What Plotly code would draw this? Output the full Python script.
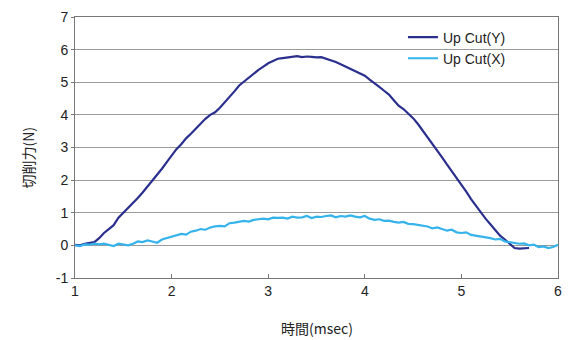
import plotly.graph_objects as go

time_ms = [round(1.0 + 0.05 * i, 2) for i in range(101)]

up_cut_y = [
    0.02, 0.00, 0.05, 0.08, 0.10, 0.22, 0.38, 0.50, 0.62, 0.85,
    1.00, 1.12, 1.30, 1.45, 1.62, 1.80, 1.98, 2.15, 2.35, 2.55,
    2.75, 2.95, 3.10, 3.28, 3.42, 3.58, 3.75, 3.88, 4.00, 4.08,
    4.22, 4.38, 4.55, 4.72, 4.90, 5.02, 5.15, 5.28, 5.38, 5.48,
    5.58, 5.65, 5.72, 5.74, 5.76, 5.78, 5.80, 5.77, 5.79, 5.78,
    5.76, 5.77, 5.72, 5.68, 5.62, 5.55, 5.48, 5.40, 5.34, 5.28,
    5.20, 5.08, 4.98, 4.86, 4.74, 4.62, 4.45, 4.28, 4.18, 4.05,
    3.90, 3.72, 3.52, 3.30, 3.12, 2.90, 2.70, 2.48, 2.28, 2.05,
    1.85, 1.65, 1.42, 1.22, 1.00, 0.82, 0.65, 0.48, 0.30, 0.18,
    0.05, -0.08, -0.10, -0.10, -0.08,
]

up_cut_x = [
    0.00, -0.02, 0.03, 0.02, 0.05, 0.03, 0.05, 0.02, -0.02, 0.05,
    0.02, 0.00, 0.05, 0.12, 0.10, 0.15, 0.12, 0.08, 0.18, 0.22,
    0.28, 0.30, 0.35, 0.33, 0.42, 0.45, 0.50, 0.48, 0.55, 0.58,
    0.60, 0.58, 0.68, 0.70, 0.72, 0.75, 0.73, 0.78, 0.80, 0.82,
    0.80, 0.85, 0.84, 0.85, 0.82, 0.88, 0.85, 0.86, 0.90, 0.84,
    0.88, 0.87, 0.90, 0.92, 0.86, 0.90, 0.88, 0.92, 0.88, 0.86,
    0.90, 0.82, 0.78, 0.80, 0.75, 0.76, 0.72, 0.70, 0.72, 0.66,
    0.65, 0.62, 0.60, 0.58, 0.52, 0.55, 0.50, 0.45, 0.48, 0.40,
    0.38, 0.40, 0.32, 0.30, 0.28, 0.25, 0.22, 0.18, 0.20, 0.12,
    0.10, 0.08, 0.05, 0.06, 0.00, 0.02, -0.05, -0.03, -0.08, -0.05,
    0.02,
]

x_ticks = [1, 2, 3, 4, 5, 6]
y_ticks = [-1, 0, 1, 2, 3, 4, 5, 6, 7]

fig = go.Figure()
fig.add_trace(go.Scatter(
    x=time_ms[:len(up_cut_y)], y=up_cut_y, mode="lines", name="Up Cut(Y)",
    line=dict(color="#2b2f8e", width=2.2),
))
fig.add_trace(go.Scatter(
    x=time_ms, y=up_cut_x, mode="lines", name="Up Cut(X)",
    line=dict(color="#35b3ea", width=2.2),
))

font_main = "Liberation Sans, Arial, sans-serif"
font_cjk = "Noto Sans CJK JP, sans-serif"

fig.update_layout(
    width=569, height=340,
    margin=dict(l=75, r=11, t=17, b=62),
    paper_bgcolor="white", plot_bgcolor="white",
    font=dict(family=font_main, size=14, color="#222222"),
    showlegend=True,
    legend=dict(
        x=0.679, y=0.983, xanchor="left", yanchor="top",
        bgcolor="rgba(0,0,0,0)", borderwidth=0,
        font=dict(family=font_main, size=14, color="#222222"),
        itemwidth=30, tracegroupgap=0,
    ),
    xaxis=dict(
        range=[1, 6], tickvals=x_ticks, ticktext=[str(v) for v in x_ticks],
        showgrid=False, zeroline=False, automargin=False,
        showline=True, linecolor="#777777", linewidth=1, mirror=True,
        ticks="inside", ticklen=4, tickcolor="#777777",
        tickfont=dict(size=14),
    ),
    yaxis=dict(
        range=[-1, 7], tickvals=y_ticks, ticktext=[str(v) for v in y_ticks],
        showgrid=True, gridcolor="#9a9a9a", gridwidth=1, zeroline=False,
        automargin=False,
        showline=True, linecolor="#777777", linewidth=1, mirror=True,
        ticks="outside", ticklen=3, tickcolor="#777777",
        tickfont=dict(size=14),
    ),
    annotations=[
        dict(text="時間(msec)", xref="paper", yref="paper",
             x=0.5, y=-0.19, xanchor="center", yanchor="middle",
             showarrow=False, font=dict(family=font_cjk, size=14, color="#222222")),
        dict(text="切削力(N)", xref="paper", yref="paper",
             x=-0.098, y=0.46, xanchor="center", yanchor="middle", textangle=-90,
             showarrow=False, font=dict(family=font_cjk, size=14, color="#222222")),
    ],
)

fig.write_html("out.html", config={"displayModeBar": False},
               post_script="document.body.style.margin='0';")
